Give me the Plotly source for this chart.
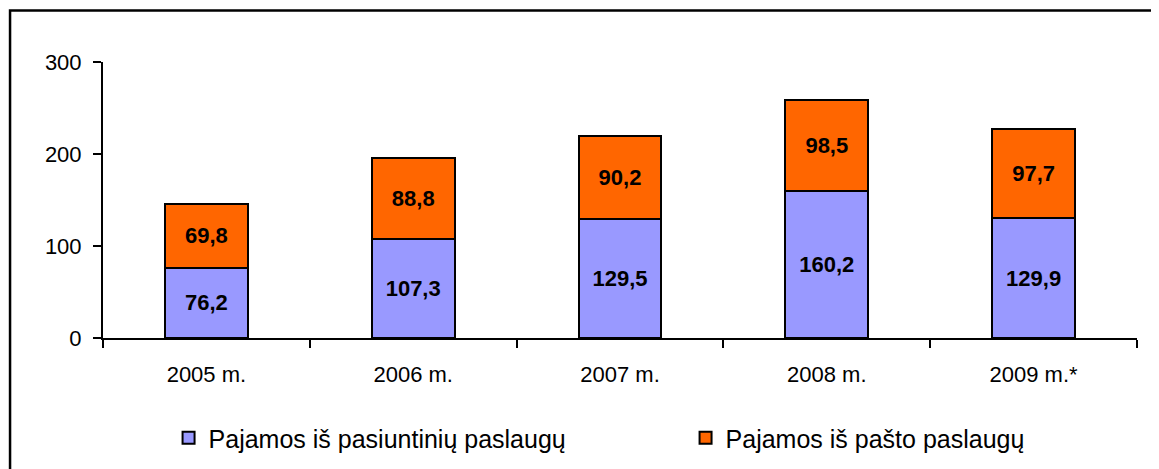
import plotly.graph_objects as go

years = ["2005 m.", "2006 m.", "2007 m.", "2008 m.", "2009 m.*"]
courier = [76.2, 107.3, 129.5, 160.2, 129.9]
postal = [69.8, 88.8, 90.2, 98.5, 97.7]
y_ticks = [0, 100, 200, 300]

FONT = "Liberation Sans, Arial, sans-serif"
FS = 22

# the page body has an 8px margin, so the figure is drawn 8px smaller
W, H = 1151, 461

fig = go.Figure()
fig.add_trace(go.Bar(
    x=years, y=courier, name="Pajamos iš pasiuntinių paslaugų",
    marker={"color": "#9999FF", "line": {"color": "black", "width": 2}},
    texttemplate="%{y:.1f}", textposition="inside", insidetextanchor="middle",
    textfont={"family": FONT, "size": FS, "color": "black", "weight": "bold"},
    constraintext="none",
))
fig.add_trace(go.Bar(
    x=years, y=postal, name="Pajamos iš pašto paslaugų",
    marker={"color": "#FF6600", "line": {"color": "black", "width": 2}},
    texttemplate="%{y:.1f}", textposition="inside", insidetextanchor="middle",
    textfont={"family": FONT, "size": FS, "color": "black", "weight": "bold"},
    constraintext="none",
))

# outer frame around the whole chart
fig.add_shape(type="rect", xref="paper", yref="paper",
              x0=-0.0899, x1=1.04, y0=-0.55, y1=1.1866,
              line={"color": "black", "width": 2.5}, layer="above")

fig.update_layout(
    barmode="stack",
    bargap=0.6,
    separators=",.",
    width=W, height=H,
    margin={"l": 95, "r": 22, "t": 54, "b": 131, "autoexpand": False},
    plot_bgcolor="white", paper_bgcolor="white",
    font={"family": FONT, "size": FS, "color": "black"},
    showlegend=True,
    legend={"orientation": "h", "xref": "container", "yref": "container",
            "x": 0.1395, "xanchor": "left", "y": 0.067, "yanchor": "middle",
            "entrywidth": 472, "entrywidthmode": "pixels", "traceorder": "normal",
            "itemwidth": 30, "font": {"size": 25}},
    xaxis={"showline": True, "linecolor": "black", "linewidth": 2,
           "ticks": "outside", "tickson": "boundaries", "ticklen": 8, "tickwidth": 2,
           "tickcolor": "black", "ticklabelstandoff": 16, "showgrid": False,
           "automargin": False},
    yaxis={"range": [0, 300], "tickvals": y_ticks, "showline": True, "linecolor": "black",
           "linewidth": 2, "ticks": "outside", "ticklen": 8, "tickwidth": 2,
           "tickcolor": "black", "showgrid": False, "zeroline": False,
           "ticklabelstandoff": 7, "automargin": False},
)

fig.write_html("out.html")
